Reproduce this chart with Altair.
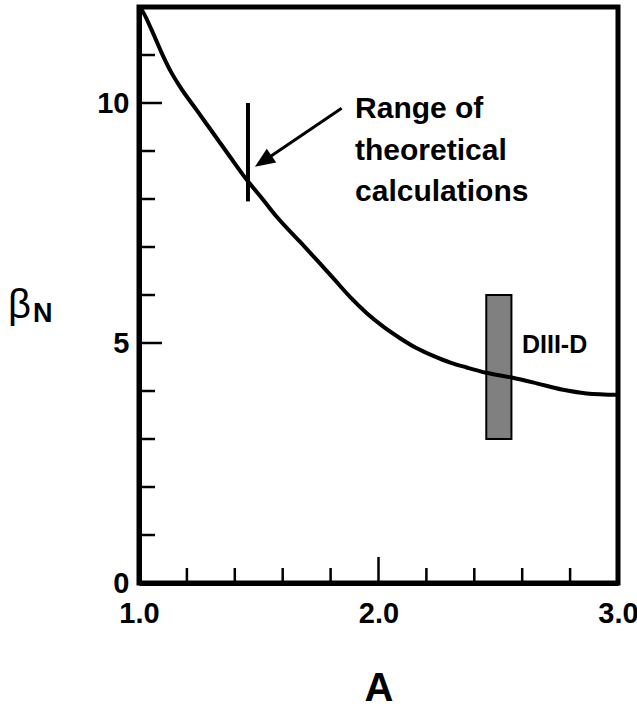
import altair as alt
import pandas as pd

# ---- data ----
curve_A = [1.0, 1.011, 1.053, 1.095, 1.129, 1.171, 1.241, 1.310, 1.380, 1.450,
           1.519, 1.575, 1.672, 1.742, 1.811, 1.881, 1.951, 2.02, 2.09, 2.16,
           2.229, 2.30, 2.368, 2.45, 2.556, 2.66, 2.765, 2.869, 3.0]
curve_beta = [12.0, 11.94, 11.52, 11.04, 10.69, 10.34, 9.85, 9.37, 8.88, 8.40,
              7.98, 7.63, 7.11, 6.73, 6.35, 5.96, 5.62, 5.34, 5.10, 4.89,
              4.73, 4.59, 4.49, 4.38, 4.28, 4.16, 4.03, 3.95, 3.92]

theory_A = [1.455]
theory_lo = [7.95]
theory_hi = [10.0]

diiid_A = [2.45]
diiid_A2 = [2.555]
diiid_lo = [3.0]
diiid_hi = [6.0]

arrow_tail_A = [1.846]
arrow_tail_b = [9.89]
arrow_base_A = [1.547]
arrow_base_b = [8.88]
arrow_tip_A = [1.484]
arrow_tip_b = [8.67]

note_lines = ["Range of", "theoretical", "calculations"]
note_A = [1.902, 1.902, 1.902]
note_b = [9.69, 8.81, 7.96]

diiid_label = ["DIII-D"]
diiid_label_A = [2.599]
diiid_label_b = [4.79]

x_ticks_major = [1.0, 2.0, 3.0]
x_ticks_minor = [1.2, 1.4, 1.6, 1.8, 2.2, 2.4, 2.6, 2.8]
y_ticks_major = [0, 5, 10]
y_ticks_minor = [1, 2, 3, 4, 6, 7, 8, 9, 11]
x_inner_major = [2.0]
y_inner_major = [5, 10]

x_title = "A"
y_symbol = ["β"]
y_sub = ["N"]

W, H = 479, 576
FONT = "Liberation Sans"

xs = alt.Scale(domain=[1.0, 3.0], nice=False, zero=False)
ys = alt.Scale(domain=[0, 12], nice=False, zero=False)

x_axis = alt.Axis(values=x_ticks_major, format=".1f", ticks=False, tickSize=0,
                  grid=False, domainWidth=5, domainColor="black",
                  labelFont=FONT, labelFontWeight="bold", labelFontSize=29,
                  labelColor="black", labelPadding=16, labelFlush=False,
                  title=x_title, titleFont=FONT, titleFontWeight="bold",
                  titleFontSize=40, titleColor="black", titleY=117,
                  titleBaseline="alphabetic")
y_axis = alt.Axis(values=y_ticks_major, format="d", ticks=False, tickSize=0,
                  grid=False, domainWidth=5, domainColor="black",
                  labelFont=FONT, labelFontWeight="bold", labelFontSize=29,
                  labelColor="black", labelPadding=10, labelFlush=False,
                  title=None)


def X(field):
    return alt.X(field, type="quantitative", scale=xs, axis=x_axis)


def Y(field):
    return alt.Y(field, type="quantitative", scale=ys, axis=y_axis)


curve_df = pd.DataFrame({"A": curve_A, "b": curve_beta})

rect = alt.Chart(pd.DataFrame({"A": diiid_A, "A2": diiid_A2, "b": diiid_lo, "b2": diiid_hi})).mark_rect(
    fill="#808080", stroke="black", strokeWidth=2
).encode(x=X("A"), x2="A2:Q", y=Y("b"), y2="b2:Q")

curve = alt.Chart(curve_df).mark_line(color="black", strokeWidth=4, interpolate="monotone").encode(
    x=X("A"), y=Y("b"))

theory = alt.Chart(pd.DataFrame({"A": theory_A, "b": theory_lo, "b2": theory_hi})).mark_rule(
    color="black", strokeWidth=4
).encode(x=X("A"), y=Y("b"), y2="b2:Q")

arrow_line = alt.Chart(pd.DataFrame({"A": arrow_tail_A, "b": arrow_tail_b,
                                     "A2": arrow_base_A, "b2": arrow_base_b})).mark_rule(
    color="black", strokeWidth=3
).encode(x=X("A"), y=Y("b"), x2="A2:Q", y2="b2:Q")

arrow_head = alt.Chart(pd.DataFrame({"A": arrow_tip_A, "b": arrow_tip_b})).mark_point(
    shape="M0,0L-0.42,1L0.42,1Z", filled=True, size=1600, angle=236,
    color="black", opacity=1, strokeWidth=0
).encode(x=X("A"), y=Y("b"))

notes = alt.Chart(pd.DataFrame({"A": note_A, "b": note_b, "t": note_lines})).mark_text(
    align="left", baseline="alphabetic", font=FONT, fontWeight="bold", fontSize=30, color="black"
).encode(x=X("A"), y=Y("b"), text="t:N")

diiid_text = alt.Chart(pd.DataFrame({"A": diiid_label_A, "b": diiid_label_b, "t": diiid_label})).mark_text(
    align="left", baseline="alphabetic", font=FONT, fontWeight="bold", fontSize=25, color="black"
).encode(x=X("A"), y=Y("b"), text="t:N")

# inward ticks
xt_minor = alt.Chart(pd.DataFrame({"A": x_ticks_minor})).mark_rule(color="black", strokeWidth=2.5).encode(
    x=X("A"), y=alt.value(H), y2=alt.value(H - 15))
xt_major = alt.Chart(pd.DataFrame({"A": x_inner_major})).mark_rule(color="black", strokeWidth=2.5).encode(
    x=X("A"), y=alt.value(H), y2=alt.value(H - 26))
yt_minor = alt.Chart(pd.DataFrame({"b": y_ticks_minor})).mark_rule(color="black", strokeWidth=2.5).encode(
    y=Y("b"), x=alt.value(0), x2=alt.value(16))
yt_major = alt.Chart(pd.DataFrame({"b": y_inner_major})).mark_rule(color="black", strokeWidth=2.5).encode(
    y=Y("b"), x=alt.value(0), x2=alt.value(23))

beta_sym = alt.Chart(pd.DataFrame({"t": y_symbol})).mark_text(
    align="left", baseline="alphabetic", font=FONT, fontSize=40, color="black"
).encode(x=alt.value(-131), y=alt.value(311), text="t:N")
beta_sub = alt.Chart(pd.DataFrame({"t": y_sub})).mark_text(
    align="left", baseline="alphabetic", font=FONT, fontWeight="bold", fontSize=27, color="black"
).encode(x=alt.value(-106), y=alt.value(315), text="t:N")

chart = alt.layer(
    rect, curve, theory, arrow_line, arrow_head, notes, diiid_text,
    xt_minor, xt_major, yt_minor, yt_major, beta_sym, beta_sub
).properties(
    width=W, height=H,
    autosize=alt.AutoSizeParams(type="none"),
    padding={"left": 139, "top": 7, "right": 19, "bottom": 123},
).configure(
    background="white"
).configure_view(
    stroke="black", strokeWidth=5
)

chart.save("out.html", embed_options={"renderer": "svg", "actions": False})
